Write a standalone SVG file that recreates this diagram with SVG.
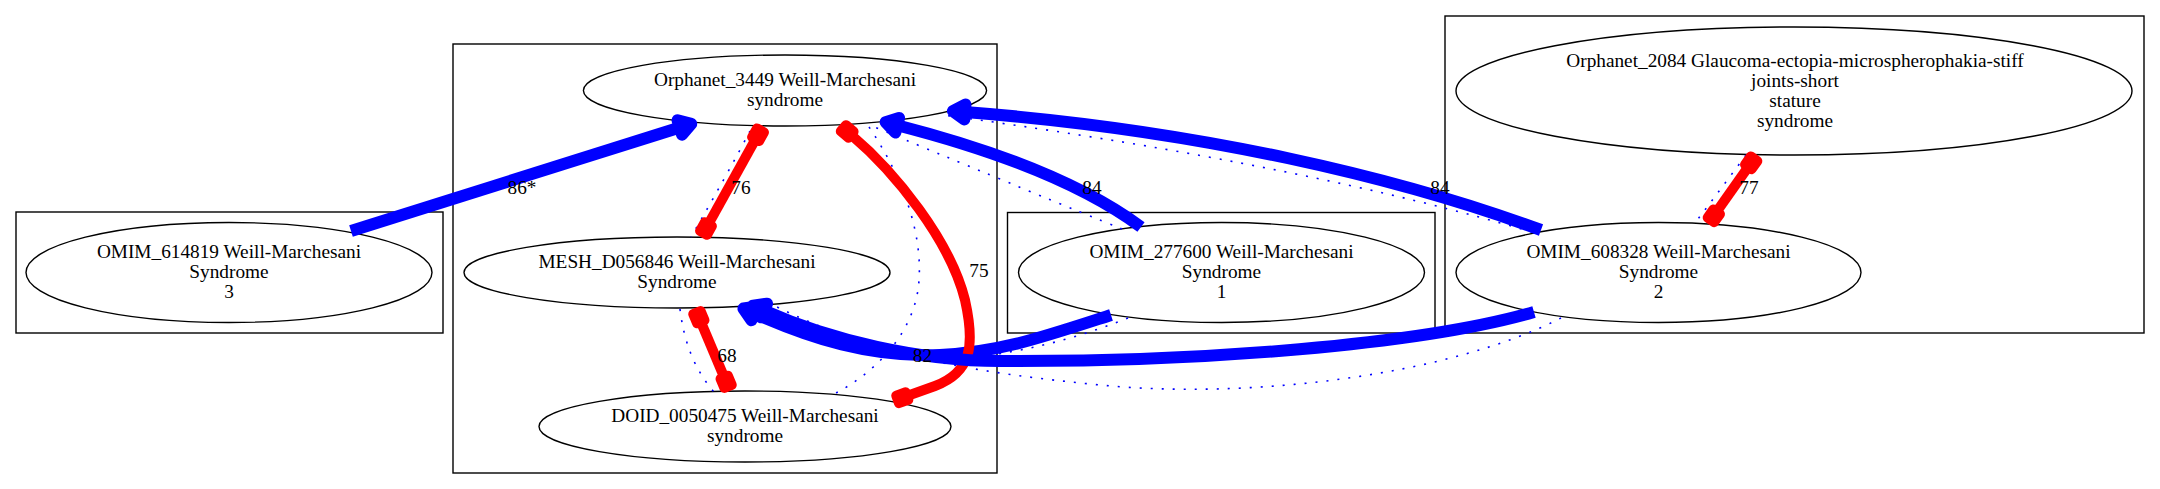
<svg xmlns="http://www.w3.org/2000/svg" width="2160" height="489" viewBox="0 0 2160 489">
<defs>
<style>
.cl{fill:none;stroke:#000;stroke-width:1.4}
.nd{fill:none;stroke:#000;stroke-width:1.4}
text{font-family:"Liberation Serif","Times New Roman",serif;font-size:19.3px;fill:#000;text-anchor:middle}
.bl{fill:none;stroke:#0000ff;stroke-width:12;marker-end:url(#ab)}
.rd{fill:none;stroke:#ff0000;stroke-width:10;marker-start:url(#rb);marker-end:url(#rb)}
.dt{fill:none;stroke:#0000ff;stroke-width:1.6;stroke-dasharray:2 9}
</style>
<marker id="ab" markerUnits="userSpaceOnUse" orient="auto" refX="0" refY="0" markerWidth="60" markerHeight="60" viewBox="-30 -30 60 60" overflow="visible">
<polygon points="0,-7.5 12,0 0,7.5" fill="#0000ff" stroke="#0000ff" stroke-width="12" stroke-linejoin="round"/>
</marker>
<marker id="rb" markerUnits="userSpaceOnUse" orient="auto-start-reverse" refX="0" refY="0" markerWidth="60" markerHeight="60" viewBox="-30 -30 60 60" overflow="visible">
<polygon points="0,-4 10,-4 10,4 0,4" fill="#ff0000" stroke="#ff0000" stroke-width="10" stroke-linejoin="round"/>
</marker>
</defs>
<rect width="2160" height="489" fill="#fff"/>
<g id="clusters">
<rect class="cl" x="16" y="212" width="427" height="121"/>
<rect class="cl" x="453" y="44" width="544" height="429"/>
<rect class="cl" x="1007.5" y="212.5" width="427.5" height="120.5"/>
<rect class="cl" x="1445" y="16" width="699" height="317"/>
</g>
<g id="OMIM_614819">
<ellipse class="nd" cx="229" cy="272.5" rx="203" ry="50"/>
<text x="229" y="258">OMIM_614819 Weill-Marchesani</text>
<text x="229" y="278">Syndrome</text>
<text x="229" y="298">3</text>
</g>
<g id="Orphanet_3449">
<ellipse class="nd" cx="785" cy="90.5" rx="201.6" ry="35.5"/>
<text x="785" y="86">Orphanet_3449 Weill-Marchesani</text>
<text x="785" y="106">syndrome</text>
</g>
<g id="MESH_D056846">
<ellipse class="nd" cx="677" cy="272.5" rx="213" ry="35.5"/>
<text x="677" y="268">MESH_D056846 Weill-Marchesani</text>
<text x="677" y="288">Syndrome</text>
</g>
<g id="DOID_0050475">
<ellipse class="nd" cx="745" cy="426.5" rx="206" ry="35.5"/>
<text x="745" y="422">DOID_0050475 Weill-Marchesani</text>
<text x="745" y="442">syndrome</text>
</g>
<g id="OMIM_277600">
<ellipse class="nd" cx="1221.5" cy="272.5" rx="203" ry="50"/>
<text x="1221.5" y="258">OMIM_277600 Weill-Marchesani</text>
<text x="1221.5" y="278">Syndrome</text>
<text x="1221.5" y="298">1</text>
</g>
<g id="Orphanet_2084">
<ellipse class="nd" cx="1794" cy="91" rx="338" ry="64"/>
<text x="1795" y="66.5">Orphanet_2084 Glaucoma-ectopia-microspherophakia-stiff</text>
<text x="1795" y="86.5">joints-short</text>
<text x="1795" y="106.5">stature</text>
<text x="1795" y="126.5">syndrome</text>
</g>
<g id="OMIM_608328">
<ellipse class="nd" cx="1658.5" cy="272.5" rx="202.5" ry="50"/>
<text x="1658.5" y="258">OMIM_608328 Weill-Marchesani</text>
<text x="1658.5" y="278">Syndrome</text>
<text x="1658.5" y="298">2</text>
</g>
<g id="connectors">
<path class="dt" d="M750,131 Q727,175 691,237"/>
<path class="dt" d="M869,127 C905,180 925,240 918,290 C910,340 870,375 836,393"/>
<path class="dt" d="M680,309 Q686,360 714,392"/>
<path class="dt" d="M1122,229 Q1050,200 872,126"/>
<path class="dt" d="M1532,232 C1390,190 1200,150 943,115"/>
<path class="dt" d="M1128,318 C1060,345 990,360 930,358 C860,356 810,336 765,309"/>
<path class="dt" d="M1561,318 C1450,375 1250,400 1100,385 C980,373 880,358 775,306"/>
<path class="dt" d="M1746,155 Q1720,190 1695,223"/>
<path class="bl" d="M351,231 L679.8,127.5"/>
<path class="rd" d="M755.6,139.1 L708.4,224.1"/>
<path class="rd" d="M700.8,321.8 L724.2,377.2"/>
<path class="bl" d="M1141,227 Q1060,167 897.2,125.2"/>
<path class="bl" d="M1541,230 C1400,178 1200,130 964.9,112"/>
<text x="950" y="362">82</text>
<path class="bl" d="M1111,315 C1040,338 1000,352 940,355 C870,358 810,338 754.4,313.4"/>
<path class="rd" d="M851,134.7 C895,172 950,240 965,300 C975,345 972,372 935,386 L907,396"/>
<path class="bl" d="M1534,312 C1420,345 1200,362 1000,361 C920,361 830,340 764,310.5"/>
<path class="rd" d="M1748.3,166.9 L1716.7,211.7"/>
<text x="522" y="194">86*</text>
<text x="741" y="194">76</text>
<text x="979" y="277">75</text>
<text x="727" y="362">68</text>
<text x="922.5" y="362">82</text>
<text x="1092" y="194">84</text>
<text x="1440" y="194">84</text>
<text x="1749" y="194">77</text>
</g>
</svg>
